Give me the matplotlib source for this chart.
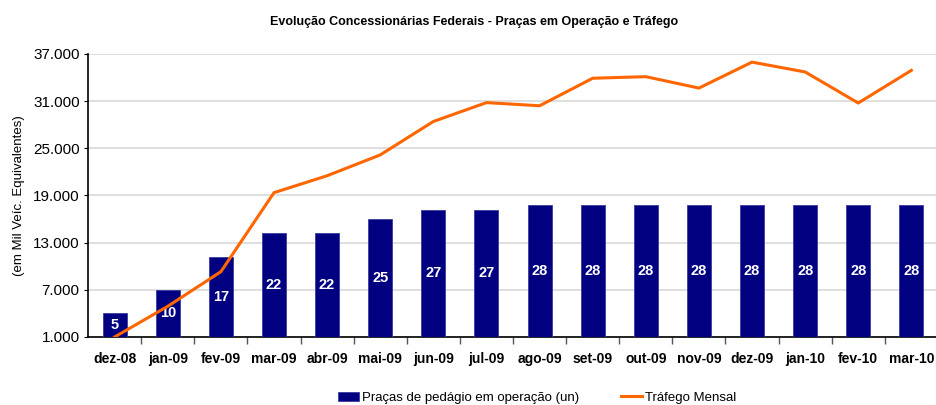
import matplotlib.pyplot as plt
from matplotlib.ticker import FixedLocator, FuncFormatter

plt.rcParams['font.family'] = ['Liberation Sans', 'DejaVu Sans']

meses = ['dez-08', 'jan-09', 'fev-09', 'mar-09', 'abr-09', 'mai-09', 'jun-09', 'jul-09',
         'ago-09', 'set-09', 'out-09', 'nov-09', 'dez-09', 'jan-10', 'fev-10', 'mar-10']
pracas = [5, 10, 17, 22, 22, 25, 27, 27, 28, 28, 28, 28, 28, 28, 28, 28]
trafego = [1000, 4900, 9300, 19350, 21500, 24150, 28400, 30800,
           30400, 33900, 34100, 32650, 35950, 34700, 30750, 34900]
y_ticks = [1000, 7000, 13000, 19000, 25000, 31000, 37000]

x = list(range(len(meses)))

fig = plt.figure(figsize=(9.37, 4.05), dpi=100)
ax = fig.add_axes([0.094, 0.168, 0.907, 0.699])

# grid + left axis
ax.set_ylim(1000, 37000)
ax.set_xlim(-0.5, len(meses) - 0.5)
ax.yaxis.set_major_locator(FixedLocator(y_ticks))
ax.yaxis.set_major_formatter(FuncFormatter(lambda v, p: f'{int(v):,}'.replace(',', '.')))
ax.grid(axis='y', color='#d9d9d9', linewidth=1.2)
ax.set_axisbelow(True)
for s in ['top', 'right']:
    ax.spines[s].set_visible(False)
ax.spines['left'].set_linewidth(1.2)
ax.spines['bottom'].set_linewidth(1.2)
ax.tick_params(axis='y', labelsize=11, length=3, pad=3)
ax.set_xticks(x)
ax.set_xticklabels(meses, fontweight='bold', fontsize=10)
ax.set_xticks([i + 0.5 for i in x[:-1]], minor=True)
ax.tick_params(axis='x', which='major', length=0, pad=11)
ax.tick_params(axis='x', which='minor', length=5, width=1, color='#555555')
ax.set_ylabel('(em Mil Veíc. Equivalentes)', fontsize=9.5, labelpad=6)

# bars on hidden secondary axis
ax2 = ax.twinx()
ax2.set_ylim(0, 60)
ax2.axis('off')
bars = ax2.bar(x, pracas, width=0.45, color='#000080', edgecolor='#3a3aa0', linewidth=0.6,
               label='Praças de pedágio em operação (un)')
ax2.bar_label(bars, label_type='center', color='white', fontweight='bold', fontsize=10.5)

# line on top
ax3 = ax.twinx()
ax3.set_ylim(1000, 37000)
ax3.axis('off')
line, = ax3.plot(x, trafego, color='#FF6600', linewidth=2.2, label='Tráfego Mensal')

ax3.set_xlim(-0.5, len(meses) - 0.5)
ax2.set_xlim(-0.5, len(meses) - 0.5)

fig.text(0.506, 0.945, 'Evolução Concessionárias Federais - Praças em Operação e Tráfego',
         ha='center', va='center', fontweight='bold', fontsize=9)

fig.legend([bars, line], ['Praças de pedágio em operação (un)', 'Tráfego Mensal'],
           loc='center', bbox_to_anchor=(0.573, 0.018), ncol=2, frameon=False,
           fontsize=9.5, handlelength=1.6, handletextpad=0.2, columnspacing=3.2)

fig.savefig('out.png', dpi=100)
